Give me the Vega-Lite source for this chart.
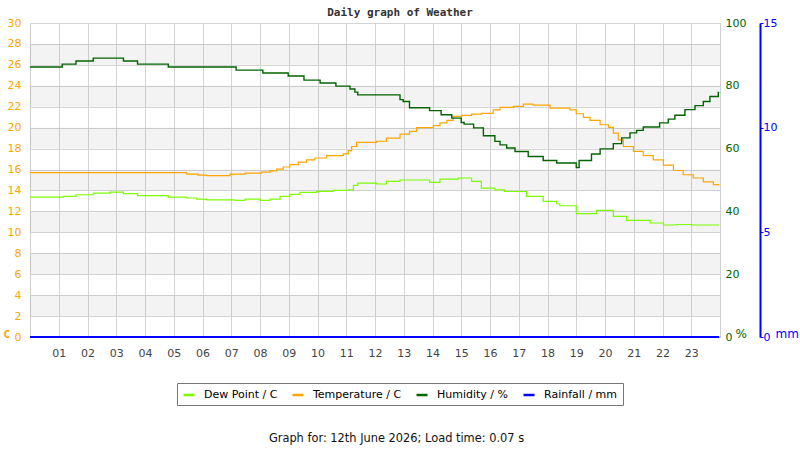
{
  "$schema": "https://vega.github.io/schema/vega-lite/v6.json",
  "width": 690,
  "height": 314,
  "autosize": "none",
  "padding": {"left": 30, "top": 23, "right": 80, "bottom": 113},
  "background": "white",
  "title": {
    "text": "Daily graph of Weather",
    "anchor": "middle",
    "frame": "group",
    "dx": 25,
    "offset": -1,
    "font": "DejaVu Sans Mono",
    "fontSize": 11,
    "fontWeight": "bold",
    "color": "#333"
  },
  "datasets": {
    "bands": [
      {"lo": 2, "hi": 4}, {"lo": 6, "hi": 8}, {"lo": 10, "hi": 12}, {"lo": 14, "hi": 16},
      {"lo": 18, "hi": 20}, {"lo": 22, "hi": 24}, {"lo": 26, "hi": 28}
    ],
    "temp": [
      {"h": 0, "t": 15.7}, {"h": 5.45, "t": 15.57}, {"h": 5.85, "t": 15.47}, {"h": 6.15, "t": 15.42},
      {"h": 6.96, "t": 15.57}, {"h": 7.48, "t": 15.66}, {"h": 8.06, "t": 15.76}, {"h": 8.35, "t": 15.88},
      {"h": 8.58, "t": 16.04}, {"h": 8.81, "t": 16.24}, {"h": 9.04, "t": 16.46}, {"h": 9.33, "t": 16.71},
      {"h": 9.62, "t": 16.93}, {"h": 9.91, "t": 17.1}, {"h": 10.32, "t": 17.32}, {"h": 10.9, "t": 17.5},
      {"h": 11.07, "t": 17.8}, {"h": 11.19, "t": 18.2}, {"h": 11.36, "t": 18.6}, {"h": 12.06, "t": 18.7},
      {"h": 12.4, "t": 19.0}, {"h": 12.87, "t": 19.39}, {"h": 13.2, "t": 19.64}, {"h": 13.45, "t": 20.0},
      {"h": 14.03, "t": 20.2}, {"h": 14.26, "t": 20.45}, {"h": 14.5, "t": 20.7}, {"h": 14.72, "t": 21.07},
      {"h": 15.02, "t": 21.17}, {"h": 15.36, "t": 21.3}, {"h": 15.7, "t": 21.36}, {"h": 16.11, "t": 21.7},
      {"h": 16.35, "t": 21.93}, {"h": 16.81, "t": 22.03}, {"h": 17.16, "t": 22.25}, {"h": 17.5, "t": 22.16},
      {"h": 18.09, "t": 21.87}, {"h": 18.78, "t": 21.7}, {"h": 19.0, "t": 21.33}, {"h": 19.25, "t": 20.98},
      {"h": 19.48, "t": 20.69}, {"h": 19.83, "t": 20.28}, {"h": 20.12, "t": 20.02}, {"h": 20.29, "t": 19.48},
      {"h": 20.46, "t": 18.84}, {"h": 20.64, "t": 18.2}, {"h": 20.99, "t": 17.73}, {"h": 21.33, "t": 17.32},
      {"h": 21.68, "t": 16.93}, {"h": 22.03, "t": 16.43}, {"h": 22.38, "t": 15.91}, {"h": 22.72, "t": 15.5},
      {"h": 23.07, "t": 15.19}, {"h": 23.42, "t": 14.83}, {"h": 23.77, "t": 14.55}, {"h": 23.97, "t": 14.55}
    ],
    "dew": [
      {"h": 0, "d": 13.37}, {"h": 1.16, "d": 13.43}, {"h": 1.6, "d": 13.59}, {"h": 2.2, "d": 13.75},
      {"h": 2.78, "d": 13.85}, {"h": 3.25, "d": 13.69}, {"h": 3.74, "d": 13.5}, {"h": 4.81, "d": 13.37},
      {"h": 5.45, "d": 13.28}, {"h": 5.8, "d": 13.18}, {"h": 6.15, "d": 13.11}, {"h": 7.13, "d": 13.05},
      {"h": 7.48, "d": 13.18}, {"h": 8.0, "d": 13.05}, {"h": 8.35, "d": 13.18}, {"h": 8.7, "d": 13.43},
      {"h": 9.04, "d": 13.62}, {"h": 9.39, "d": 13.81}, {"h": 9.97, "d": 13.91}, {"h": 10.55, "d": 14.0},
      {"h": 11.1, "d": 14.07}, {"h": 11.25, "d": 14.48}, {"h": 11.4, "d": 14.7}, {"h": 12.06, "d": 14.62},
      {"h": 12.4, "d": 14.86}, {"h": 12.87, "d": 15.0}, {"h": 13.9, "d": 14.77}, {"h": 14.26, "d": 15.09},
      {"h": 14.9, "d": 15.19}, {"h": 15.36, "d": 14.86}, {"h": 15.7, "d": 14.23}, {"h": 16.17, "d": 14.07},
      {"h": 16.5, "d": 13.9}, {"h": 17.27, "d": 13.43}, {"h": 17.85, "d": 12.95}, {"h": 18.32, "d": 12.73},
      {"h": 18.43, "d": 12.54}, {"h": 19.0, "d": 11.78}, {"h": 19.71, "d": 12.1}, {"h": 20.29, "d": 11.52},
      {"h": 20.75, "d": 11.14}, {"h": 21.57, "d": 10.89}, {"h": 22.03, "d": 10.7}, {"h": 22.5, "d": 10.75},
      {"h": 23.0, "d": 10.7}, {"h": 23.97, "d": 10.7}
    ],
    "hum": [
      {"h": 0, "u": 86.0}, {"h": 1.12, "u": 86.9}, {"h": 1.6, "u": 87.9}, {"h": 2.2, "u": 88.8},
      {"h": 3.25, "u": 87.9}, {"h": 3.74, "u": 86.9}, {"h": 4.81, "u": 86.0}, {"h": 7.17, "u": 85.0},
      {"h": 8.1, "u": 84.1}, {"h": 8.98, "u": 83.1}, {"h": 9.53, "u": 81.8}, {"h": 10.09, "u": 80.9},
      {"h": 10.64, "u": 79.9}, {"h": 11.13, "u": 79.0}, {"h": 11.3, "u": 78.0}, {"h": 11.4, "u": 77.1},
      {"h": 12.87, "u": 75.6}, {"h": 12.98, "u": 75.0}, {"h": 13.2, "u": 73.0}, {"h": 13.9, "u": 72.1},
      {"h": 14.3, "u": 70.8}, {"h": 14.67, "u": 69.7}, {"h": 15.0, "u": 68.3}, {"h": 15.1, "u": 67.8},
      {"h": 15.43, "u": 66.6}, {"h": 15.77, "u": 64.1}, {"h": 16.17, "u": 62.3}, {"h": 16.35, "u": 61.2},
      {"h": 16.58, "u": 60.2}, {"h": 16.87, "u": 59.1}, {"h": 17.33, "u": 57.5}, {"h": 17.85, "u": 56.2},
      {"h": 18.32, "u": 55.4}, {"h": 19.0, "u": 54.0}, {"h": 19.1, "u": 56.2}, {"h": 19.53, "u": 58.3},
      {"h": 19.83, "u": 59.9}, {"h": 20.29, "u": 61.6}, {"h": 20.58, "u": 63.4}, {"h": 20.87, "u": 65.0},
      {"h": 21.1, "u": 65.8}, {"h": 21.33, "u": 66.9}, {"h": 21.9, "u": 68.2}, {"h": 22.2, "u": 69.4},
      {"h": 22.43, "u": 70.6}, {"h": 22.78, "u": 72.4}, {"h": 23.13, "u": 73.7}, {"h": 23.42, "u": 75.0},
      {"h": 23.65, "u": 76.6}, {"h": 23.94, "u": 77.9}, {"h": 23.97, "u": 77.9}
    ],
    "rain": [
      {"h": 0, "r": 0}, {"h": 23.97, "r": 0}
    ]
  },
  "layer": [
    {
      "layer": [
        {
          "data": {"name": "bands"},
          "mark": {"type": "rect", "fill": "#000", "opacity": 0.047},
          "encoding": {
            "y": {
              "field": "lo",
              "type": "quantitative",
              "title": "C",
              "scale": {"domain": [0, 30], "nice": false},
              "axis": {
                "orient": "left",
                "values": [0, 2, 4, 6, 8, 10, 12, 14, 16, 18, 20, 22, 24, 26, 28, 30],
                "tickCount": 40,
                "grid": true,
                "gridColor": "#d4d4d4",
                "domain": false,
                "ticks": false,
                "tickSize": 0,
                "labelPadding": 9,
                "labelFont": "DejaVu Sans",
                "labelFontSize": 11,
                "labelColor": "#ffa500",
                "titleColor": "#ffa500",
                "titleFont": "DejaVu Sans Mono",
                "titleFontSize": 11,
                "titleFontWeight": "bold",
                "titleAngle": 0,
                "titleX": -27,
                "titleY": 314,
                "titleAlign": "left",
                "titleBaseline": "alphabetic"
              }
            },
            "y2": {"field": "hi"}
          }
        },
        {
          "data": {"name": "dew"},
          "mark": {"type": "line", "interpolate": "step-after", "strokeWidth": 1.2},
          "encoding": {
            "x": {"field": "h", "type": "quantitative", "title": "Graph for: 12th June 2026; Load time: 0.07 s", "scale": {"domain": [0, 24], "nice": false, "zero": false}},
            "y": {"field": "d", "type": "quantitative", "title": "C", "scale": {"domain": [0, 30], "nice": false}},
            "color": {
              "datum": "Dew Point / C",
              "scale": {
                "domain": ["Dew Point / C", "Temperature / C", "Humidity / %", "Rainfall / mm"],
                "range": ["#7cfc00", "#ffa500", "#006400", "#0000ff"]
              },
              "title": null
            }
          }
        },
        {
          "data": {"name": "temp"},
          "mark": {"type": "line", "interpolate": "step-after", "strokeWidth": 1.2},
          "encoding": {
            "x": {
              "field": "h",
              "type": "quantitative",
              "title": "Graph for: 12th June 2026; Load time: 0.07 s",
              "scale": {"domain": [0, 24], "nice": false, "zero": false},
              "axis": {
                "values": [1, 2, 3, 4, 5, 6, 7, 8, 9, 10, 11, 12, 13, 14, 15, 16, 17, 18, 19, 20, 21, 22, 23],
                "tickCount": 40,
                "labelExpr": "datum.value < 10 ? '0' + datum.value : '' + datum.value",
                "grid": true,
                "gridColor": "#d4d4d4",
                "domain": false,
                "ticks": false,
                "tickSize": 0,
                "labelPadding": 10,
                "labelFont": "DejaVu Sans",
                "labelFontSize": 11,
                "labelColor": "#444",
                "labelFlush": false,
                "titleFont": "DejaVu Sans",
                "titleFontSize": 11.4,
                "titleFontWeight": "normal",
                "titleColor": "#111",
                "titleX": 366,
                "titleY": 104,
                "titleAlign": "center",
                "titleBaseline": "alphabetic"
              }
            },
            "y": {"field": "t", "type": "quantitative", "title": "C", "scale": {"domain": [0, 30], "nice": false}},
            "color": {
              "datum": "Temperature / C",
              "scale": {
                "domain": ["Dew Point / C", "Temperature / C", "Humidity / %", "Rainfall / mm"],
                "range": ["#7cfc00", "#ffa500", "#006400", "#0000ff"]
              },
              "title": null
            }
          }
        }
      ]
    },
    {
      "data": {"name": "hum"},
      "mark": {"type": "line", "interpolate": "step-after", "strokeWidth": 1.4},
      "encoding": {
        "x": {"field": "h", "type": "quantitative", "title": "Graph for: 12th June 2026; Load time: 0.07 s", "scale": {"domain": [0, 24], "nice": false, "zero": false}},
        "y": {
          "field": "u",
          "type": "quantitative",
          "scale": {"domain": [0, 100], "nice": false},
          "axis": {
            "orient": "right",
            "values": [0, 20, 40, 60, 80, 100],
            "tickCount": 20,
            "grid": false,
            "domain": false,
            "ticks": false,
            "tickSize": 0,
            "labelPadding": 5,
            "labelFont": "DejaVu Sans",
            "labelFontSize": 11,
            "labelColor": "#006400",
            "title": "%",
            "titleColor": "#006400",
            "titleFont": "DejaVu Sans",
            "titleFontSize": 12,
            "titleFontWeight": "normal",
            "titleAngle": 0,
            "titleX": 15,
            "titleY": 314,
            "titleAlign": "left",
            "titleBaseline": "alphabetic"
          }
        },
        "color": {
          "datum": "Humidity / %",
          "scale": {
            "domain": ["Dew Point / C", "Temperature / C", "Humidity / %", "Rainfall / mm"],
            "range": ["#7cfc00", "#ffa500", "#006400", "#0000ff"]
          },
          "title": null
        }
      }
    },
    {
      "data": {"name": "rain"},
      "mark": {"type": "line", "strokeWidth": 2},
      "encoding": {
        "x": {"field": "h", "type": "quantitative", "title": "Graph for: 12th June 2026; Load time: 0.07 s", "scale": {"domain": [0, 24], "nice": false, "zero": false}},
        "y": {
          "field": "r",
          "type": "quantitative",
          "scale": {"domain": [0, 15], "nice": false},
          "axis": {
            "orient": "right",
            "offset": 40,
            "values": [0, 5, 10, 15],
            "tickCount": 20,
            "grid": false,
            "domain": true,
            "domainColor": "#0000ff",
            "domainWidth": 2,
            "ticks": true,
            "tickColor": "#0000ff",
            "tickSize": 3,
            "labelPadding": 0,
            "labelFont": "DejaVu Sans",
            "labelFontSize": 11,
            "labelColor": "#0000ff",
            "title": "mm",
            "titleColor": "#0000ff",
            "titleFont": "DejaVu Sans",
            "titleFontSize": 12,
            "titleFontWeight": "normal",
            "titleAngle": 0,
            "titleX": 15,
            "titleY": 314,
            "titleAlign": "left",
            "titleBaseline": "alphabetic"
          }
        },
        "color": {
          "datum": "Rainfall / mm",
          "scale": {
            "domain": ["Dew Point / C", "Temperature / C", "Humidity / %", "Rainfall / mm"],
            "range": ["#7cfc00", "#ffa500", "#006400", "#0000ff"]
          },
          "title": null
        }
      }
    }
  ],
  "resolve": {"scale": {"y": "independent"}, "axis": {"y": "independent"}},
  "config": {
    "view": {"stroke": "#d0d0d0"},
    "font": "DejaVu Sans",
    "axis": {"labelOverlap": false, "labelBound": false},
    "legend": {
      "orient": "none",
      "legendX": 147,
      "legendY": 360,
      "direction": "horizontal",
      "strokeColor": "#777",
      "fillColor": "white",
      "padding": 5,
      "columnPadding": 9,
      "symbolType": "stroke",
      "symbolStrokeWidth": 2.5,
      "symbolSize": 121,
      "labelFont": "DejaVu Sans",
      "labelFontSize": 11,
      "labelColor": "#000",
      "labelOffset": 8
    }
  }
}
